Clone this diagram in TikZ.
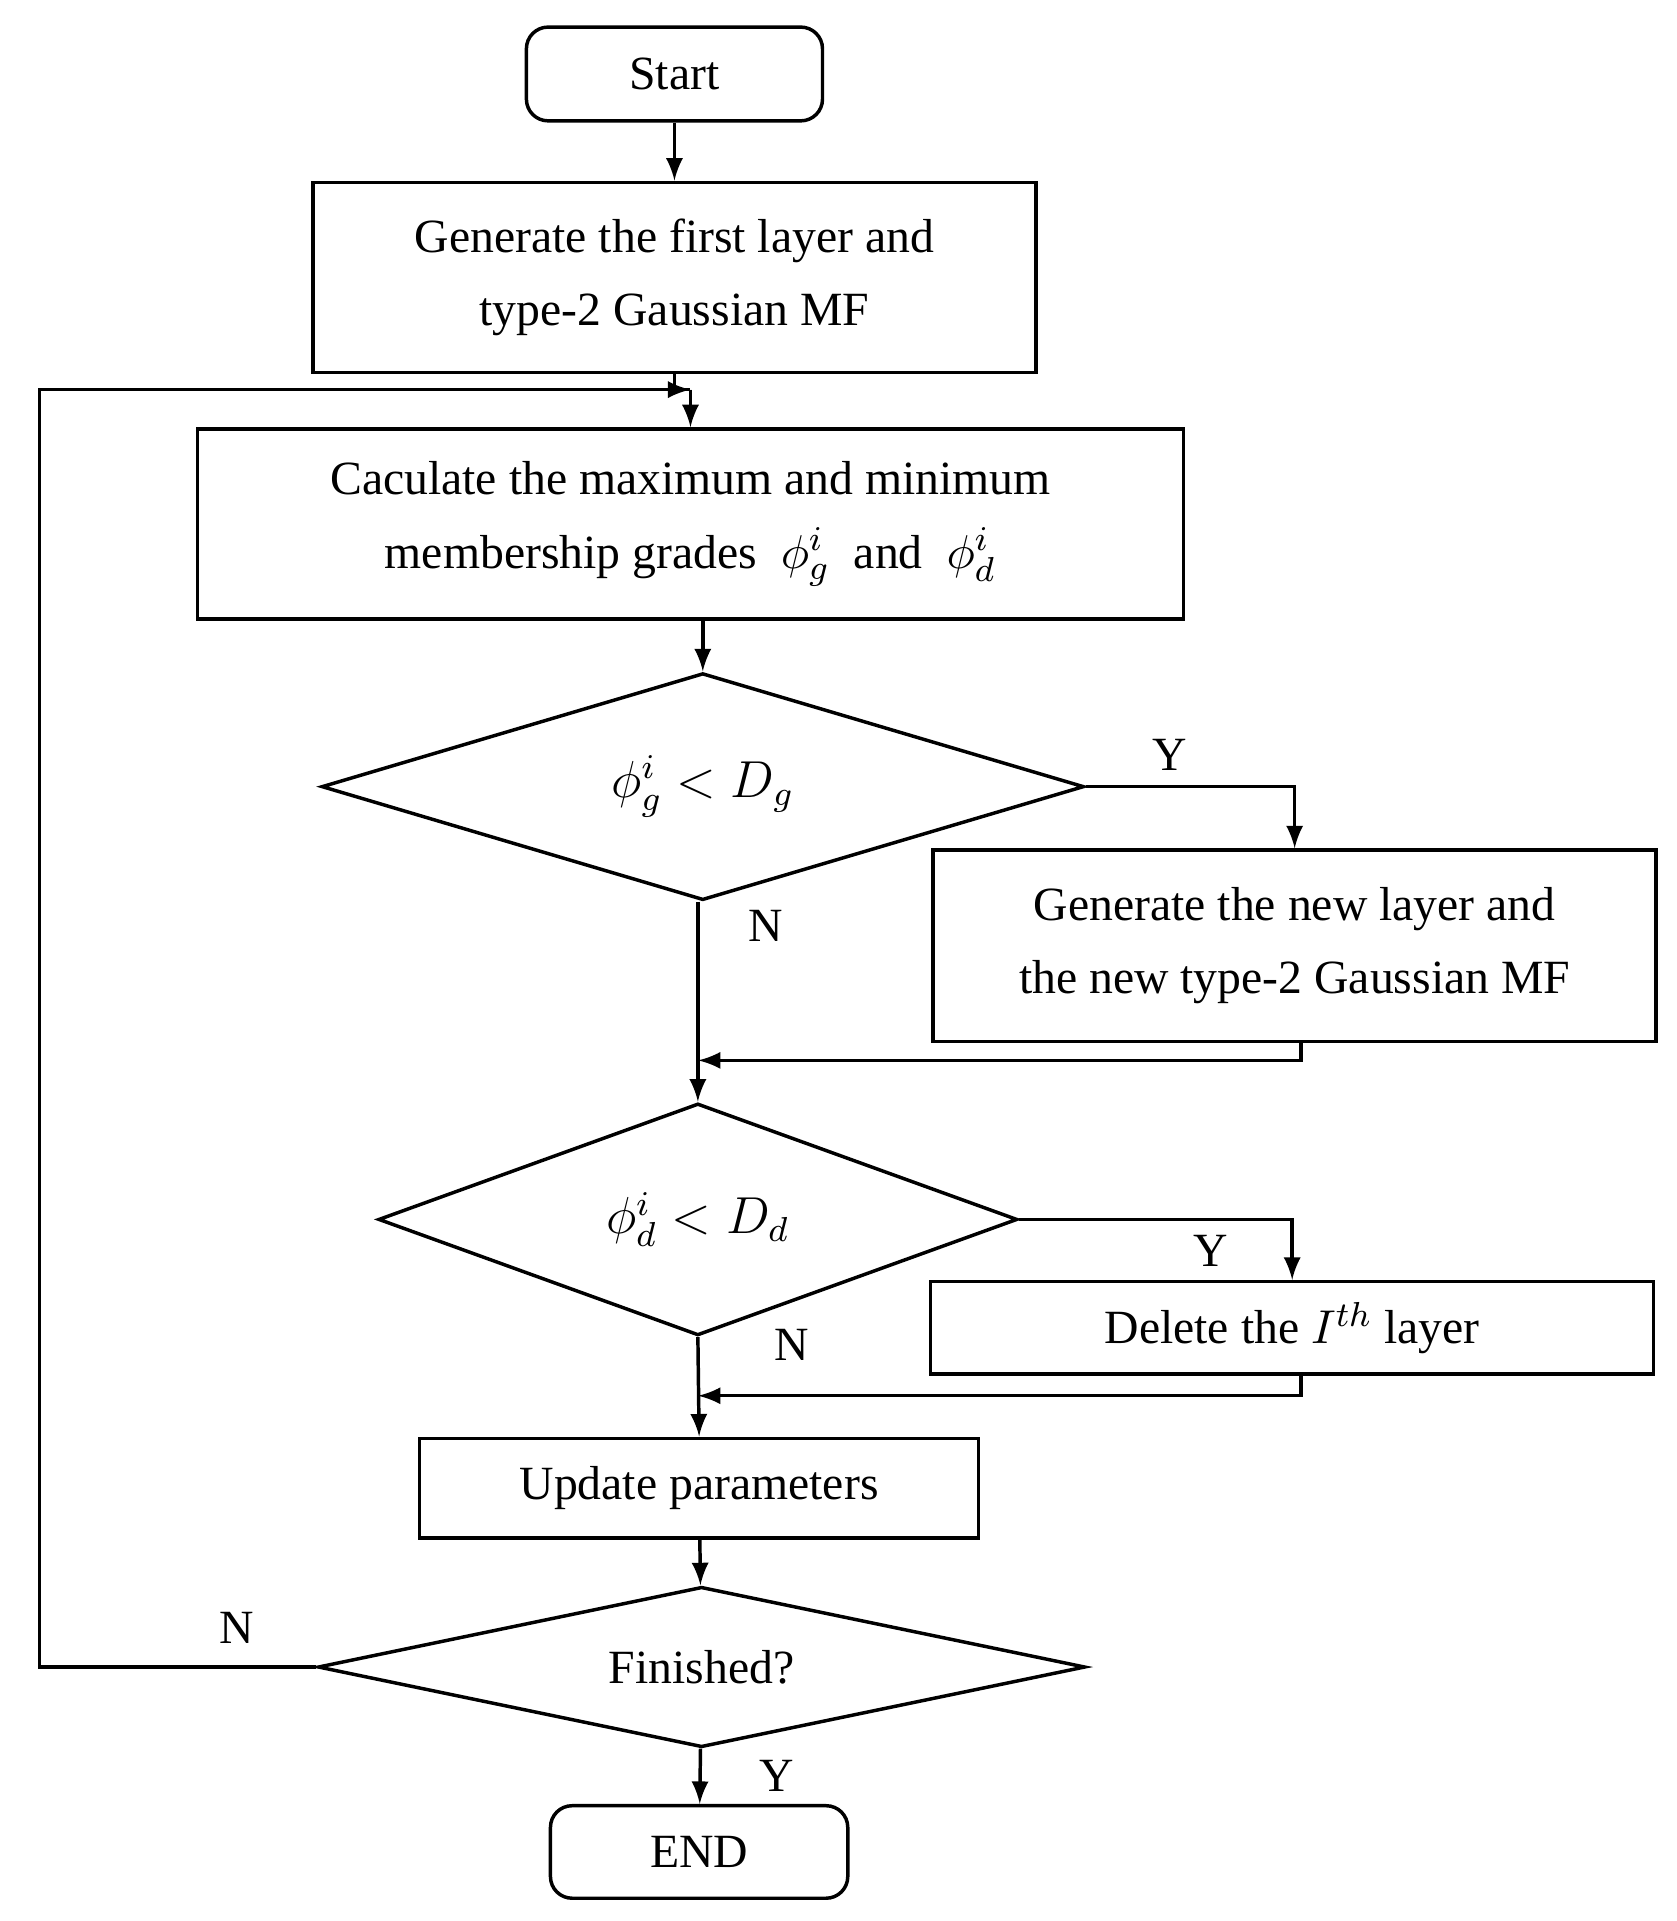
\documentclass[tikz,border=0pt]{standalone}
\usepackage{fontspec}
\setmainfont{Liberation Serif}
\usetikzlibrary{shapes.geometric}

\tikzset{
    box/.style={draw, thick, minimum width=#1, inner sep=0pt, align=center, font=\fontsize{11}{17}\selectfont},
    rbox/.style={box=#1, rounded corners=5pt},
    cond/.style={draw, thick, diamond, inner sep=0pt, aspect=#1, font=\fontsize{11}{14}\selectfont},
    lab/.style={font=\fontsize{11}{13}\selectfont},
    line/.style={thick, -latex}
}

\begin{document}
\begin{tikzpicture}[x=0.01cm, y=-0.01cm]
    \useasboundingbox (0,0) rectangle (1360,1558);

    \node[rbox=2.4cm, minimum height=0.76cm] (start) at (547,60) {Start};
    \node[box=5.86cm, minimum height=1.54cm] (first) at (547,225) {Generate the first layer and\\type-2 Gaussian MF};
    \node[box=7.99cm, minimum height=1.54cm] (calc) at (560,425) {Caculate the maximum and minimum\\membership grades \ $\phi_g^i$ \ and \ $\phi_d^i$};
    \node[cond=3.36, minimum width=6.18cm, minimum height=1.84cm] (dg) at (570,638) {\large $\phi_g^i < D_g$};
    \node[box=5.86cm, minimum height=1.55cm] (newl) at (1050,767) {Generate the new layer and\\the new type-2 Gaussian MF};
    \node[cond=2.75, minimum width=5.18cm, minimum height=1.88cm] (dd) at (566,989) {\large $\phi_d^i < D_d$};
    \node[box=5.86cm, minimum height=0.75cm] (del) at (1048,1077) {Delete the $I^{th}$ layer};
    \node[box=4.53cm, minimum height=0.81cm] (upd) at (567,1207) {Update parameters};
    \node[cond=4.78, minimum width=6.22cm, minimum height=1.30cm] (fin) at (569,1352) {Finished?};
    \node[rbox=2.41cm, minimum height=0.75cm] (end) at (567,1502) {END};

    \coordinate (loop) at (560,316);
    \coordinate (join1) at (566,860);
    \coordinate (join2) at (566,1132);
    \coordinate (out1) at (1055,845);
    \coordinate (out2) at (1055,1115);

    \draw[line] (start) -- (first);
    \draw[thick] (first.south) |- (loop);
    \draw[line] (loop) -- (calc.north -| loop);
    \draw[line] (fin.west) -- (32,1352) |- (loop);
    \draw[line] (calc.south -| dg) -- (dg.north);
    \draw[line] (dg.east) -| (newl.north) node[lab, pos=0.2, above] {Y};
    \draw[line] (dg.south -| join1) -- (dd.north) node[lab, pos=0.12, right=8pt] {N};
    \draw[line] (out1) |- (join1);
    \draw[line] (dd.east) -| (del.north) node[lab, pos=0.35, below] {Y};
    \draw[line] (dd.south) -- (upd.north) node[lab, pos=0.08, right=14pt] {N};
    \draw[line] (out2) |- (join2);
    \draw[line] (upd) -- (fin);
    \draw[line] (fin) -- (end) node[lab, midway, right=10pt] {Y};
    \node[lab] (nfin) at (192,1320) {N};
\end{tikzpicture}
\end{document}
